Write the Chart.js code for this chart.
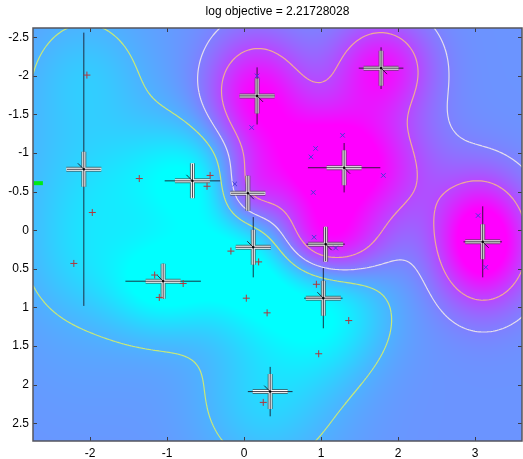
<!DOCTYPE html>
<html>
<head>
<meta charset="utf-8">
<script src="https://cdn.jsdelivr.net/npm/chart.js@4.4.1/dist/chart.umd.min.js"></script>
<style>
  html, body { margin: 0; padding: 0; background: #fff; }
  #wrap { width: 523px; height: 459px; }
</style>
</head>
<body>
<div id="wrap"><canvas id="plot" width="523" height="459"></canvas></div>
<script>
const titleText = 'log objective = 2.21728028';
const xTicks = [-2, -1, 0, 1, 2, 3];
const yTicks = [-2.5, -2, -1.5, -1, -0.5, 0, 0.5, 1, 1.5, 2, 2.5];

// class A points (red +)
const redX = [-2.04, -1.97, -1.36, -0.44, -0.48, -0.17, 0.19, -2.21, -1.16, -0.79, -1.10, 0.03, 0.94, 1.36, 0.30, 0.97, 0.25];
const redY = [-2.01, -0.23, -0.67, -0.71, -0.57, 0.27, 0.41, 0.43, 0.58, 0.69, 0.87, 0.88, 0.70, 1.17, 1.07, 1.60, 2.23];

// class B points (blue x)
const blueX = [-0.12, 0.10, 0.17, 1.28, 0.93, 0.87, 1.81, 0.90, 0.91, 1.19, 3.04, 3.14];
const blueY = [-0.60, -1.33, -2.00, -1.23, -1.06, -0.95, -0.71, -0.49, 0.09, 0.23, -0.19, 0.48];

const greenX = [-2.67];
const greenY = [-0.61];

// components: centre, length scales (black bars), class (+1 magenta, -1 cyan)
const centerX    = [-2.08, -0.67, 0.05, 0.17, 1.78, 1.30, 1.06, 0.12, -1.05, 1.03, 0.34, 3.10];
const centerY    = [-0.79, -0.64, -0.48, -1.74, -2.10, -0.81, 0.18, 0.22, 0.66, 0.88, 2.09, 0.15];
const centerLenX = [0.22, 0.36, 0.22, 0.23, 0.29, 0.47, 0.25, 0.23, 0.49, 0.25, 0.29, 0.25];
const centerLenY = [1.77, 0.22, 0.23, 0.37, 0.27, 0.32, 0.22, 0.39, 0.23, 0.39, 0.32, 0.46];
const centerClass = [-1, -1, 1, 1, 1, 1, 1, -1, -1, -1, -1, 1];
const centerWeight = [1, 1, 1, 0.8, 0.8, 1, 0.8, 1, 1, 0.8, 1, 0.8];

// estimated field: component bumps plus a small bump per data point
const centerAmp = [-0.20, -0.30, 0.35, 0.45, 0.50, 0.55, 0.45, -0.25, -0.23, -0.25, -0.18, 0.65];
const centerSX  = [0.75, 0.55, 0.30, 0.45, 0.45, 0.70, 0.50, 0.50, 0.60, 0.60, 0.75, 0.42];
const centerSY  = [1.55, 0.55, 0.35, 0.55, 0.45, 0.55, 0.35, 0.50, 0.45, 0.60, 0.90, 0.55];
const pointAmp = 0.07;
const pointSigma = 0.45;
const baseLevel = 0.42;
const contourLevels = [0.30, 0.5, 0.72];
const contourColors = ['rgb(200,232,120)', 'rgb(228,222,236)', 'rgb(240,170,150)'];

function bump(x, y, cx, cy, sx, sy) {
    const dx = (x - cx) / sx, dy = (y - cy) / sy;
    return Math.exp(-0.5 * (dx * dx + dy * dy));
}

function field(x, y) {
    let v = baseLevel;
    for (let i = 0; i < centerX.length; i++) {
        v += centerAmp[i] * bump(x, y, centerX[i], centerY[i], centerSX[i], centerSY[i]);
    }
    for (let i = 0; i < redX.length; i++) {
        v -= pointAmp * bump(x, y, redX[i], redY[i], pointSigma, pointSigma);
    }
    for (let i = 0; i < blueX.length; i++) {
        v += pointAmp * bump(x, y, blueX[i], blueY[i], pointSigma, pointSigma);
    }
    return v;
}

function pts(xs, ys) {
    return xs.map((x, i) => ({x: x, y: ys[i]}));
}

const backdrop = {
    id: 'backdrop',
    beforeDatasetsDraw(chart) {
        const ctx = chart.ctx;
        const a = chart.chartArea;
        const sx = chart.scales.x, sy = chart.scales.y;
        const w = Math.round(a.right - a.left), h = Math.round(a.bottom - a.top);

        // heat map
        const off = document.createElement('canvas');
        off.width = w; off.height = h;
        const octx = off.getContext('2d');
        const img = octx.createImageData(w, h);
        const xv = [], yv = [];
        for (let i = 0; i < w; i++) xv.push(sx.getValueForPixel(a.left + i + 0.5));
        for (let j = 0; j < h; j++) yv.push(sy.getValueForPixel(a.top + j + 0.5));
        for (let j = 0; j < h; j++) {
            for (let i = 0; i < w; i++) {
                let v = field(xv[i], yv[j]);
                v = Math.max(0, Math.min(1, v));
                const k = (j * w + i) * 4;
                img.data[k] = 255 * v;
                img.data[k + 1] = 255 * (1 - v);
                img.data[k + 2] = 255;
                img.data[k + 3] = 255;
            }
        }
        octx.putImageData(img, 0, 0);
        ctx.drawImage(off, a.left, a.top);

        // contours (marching squares)
        const step = 2;
        const nx = Math.ceil(w / step) + 1, ny = Math.ceil(h / step) + 1;
        const g = [];
        for (let j = 0; j < ny; j++) {
            const row = [];
            const yy = sy.getValueForPixel(a.top + j * step);
            for (let i = 0; i < nx; i++) {
                row.push(field(sx.getValueForPixel(a.left + i * step), yy));
            }
            g.push(row);
        }
        ctx.save();
        ctx.beginPath();
        ctx.rect(a.left, a.top, w, h);
        ctx.clip();
        ctx.lineWidth = 1.2;
        contourLevels.forEach((lev, li) => {
            ctx.strokeStyle = contourColors[li];
            ctx.beginPath();
            for (let j = 0; j < ny - 1; j++) {
                for (let i = 0; i < nx - 1; i++) {
                    const v0 = g[j][i], v1 = g[j][i + 1], v2 = g[j + 1][i + 1], v3 = g[j + 1][i];
                    const x0 = a.left + i * step, y0 = a.top + j * step;
                    const cr = [];
                    if ((v0 - lev) * (v1 - lev) < 0) cr.push([x0 + step * (lev - v0) / (v1 - v0), y0]);
                    if ((v1 - lev) * (v2 - lev) < 0) cr.push([x0 + step, y0 + step * (lev - v1) / (v2 - v1)]);
                    if ((v3 - lev) * (v2 - lev) < 0) cr.push([x0 + step * (lev - v3) / (v2 - v3), y0 + step]);
                    if ((v0 - lev) * (v3 - lev) < 0) cr.push([x0, y0 + step * (lev - v0) / (v3 - v0)]);
                    for (let c = 0; c + 1 < cr.length; c += 2) {
                        ctx.moveTo(cr[c][0], cr[c][1]);
                        ctx.lineTo(cr[c + 1][0], cr[c + 1][1]);
                    }
                }
            }
            ctx.stroke();
        });

        // components
        const arm = 17.5;
        centerX.forEach((cx, i) => {
            const px = sx.getPixelForValue(cx), py = sy.getPixelForValue(centerY[i]);
            ctx.lineCap = 'butt';
            ctx.strokeStyle = 'rgba(70,70,70,0.7)';
            ctx.lineWidth = 5;
            ctx.beginPath();
            ctx.moveTo(px - arm, py); ctx.lineTo(px + arm, py);
            ctx.moveTo(px, py - arm); ctx.lineTo(px, py + arm);
            ctx.stroke();
            const s = Math.round(155 + 100 * centerWeight[i]);
            ctx.strokeStyle = 'rgb(' + s + ',' + s + ',' + s + ')';
            ctx.lineWidth = 3;
            ctx.stroke();

            const lx = Math.abs(sx.getPixelForValue(cx + centerLenX[i]) - px);
            const ly = Math.abs(sy.getPixelForValue(centerY[i] + centerLenY[i]) - py);
            ctx.strokeStyle = 'rgba(25,20,35,0.85)';
            ctx.lineWidth = 1;
            ctx.beginPath();
            ctx.moveTo(px - lx, py); ctx.lineTo(px + lx, py);
            ctx.moveTo(px, py - ly); ctx.lineTo(px, py + ly);
            const d = 6 * centerClass[i];
            ctx.moveTo(px, py); ctx.lineTo(px + d, py + d);
            ctx.stroke();
            ctx.fillStyle = '#000';
            ctx.fillRect(px - 1, py - 1, 2, 2);
        });
        ctx.restore();
    },
    afterDraw(chart) {
        const ctx = chart.ctx;
        const a = chart.chartArea;
        const sx = chart.scales.x, sy = chart.scales.y;
        ctx.save();
        ctx.strokeStyle = '#3c3c46';
        ctx.lineWidth = 1;
        ctx.beginPath();
        xTicks.forEach(v => {
            const p = Math.round(sx.getPixelForValue(v)) + 0.5;
            ctx.moveTo(p, a.bottom); ctx.lineTo(p, a.bottom - 4);
            ctx.moveTo(p, a.top); ctx.lineTo(p, a.top + 4);
        });
        yTicks.forEach(v => {
            const p = Math.round(sy.getPixelForValue(v)) + 0.5;
            ctx.moveTo(a.left, p); ctx.lineTo(a.left + 4, p);
            ctx.moveTo(a.right, p); ctx.lineTo(a.right - 4, p);
        });
        ctx.stroke();
        ctx.lineWidth = 1.5;
        ctx.strokeStyle = '#55555e';
        ctx.strokeRect(a.left, a.top, a.right - a.left, a.bottom - a.top);
        ctx.fillStyle = '#000';
        ctx.font = '12px "Liberation Sans", Arial, sans-serif';
        ctx.textAlign = 'center';
        ctx.textBaseline = 'middle';
        ctx.fillText(titleText, (a.left + a.right) / 2, 12);
        ctx.restore();
    }
};

const ctx = document.getElementById('plot').getContext('2d');
const chart = new Chart(ctx, {
    type: 'scatter',
    data: {
        datasets: [
            {
                data: pts(redX, redY),
                pointStyle: 'cross',
                radius: 3.5,
                borderWidth: 1,
                borderColor: 'rgb(175,55,60)',
                backgroundColor: 'rgb(175,55,60)'
            },
            {
                data: pts(blueX, blueY),
                pointStyle: 'crossRot',
                radius: 3.2,
                borderWidth: 1,
                borderColor: 'rgb(70,60,215)',
                backgroundColor: 'rgb(70,60,215)'
            },
            {
                data: pts(greenX, greenY),
                pointStyle: 'line',
                radius: 4.5,
                borderWidth: 4,
                borderColor: 'rgb(0,235,20)',
                clip: false
            }
        ]
    },
    options: {
        responsive: false,
        animation: false,
        events: [],
        layout: { autoPadding: false, padding: { top: 28, right: 1, left: 0, bottom: 0 } },
        plugins: {
            legend: { display: false },
            tooltip: { enabled: false }
        },
        scales: {
            x: {
                type: 'linear',
                min: -2.74,
                max: 3.61,
                grid: { display: false, drawTicks: false },
                border: { display: false },
                afterFit: (scale) => { scale.height = 18; scale.paddingLeft = 0; scale.paddingRight = 0; },
                afterBuildTicks: (scale) => { scale.ticks = xTicks.map(v => ({value: v})); },
                ticks: {
                    padding: 5,
                    color: '#000',
                    font: { family: '"Liberation Sans", Arial, sans-serif', size: 12 },
                    callback: (v) => String(v)
                }
            },
            y: {
                type: 'linear',
                reverse: true,
                min: -2.62,
                max: 2.73,
                grid: { display: false, drawTicks: false },
                border: { display: false },
                afterFit: (scale) => { scale.width = 33; scale.paddingTop = 0; scale.paddingBottom = 0; },
                afterBuildTicks: (scale) => { scale.ticks = yTicks.map(v => ({value: v})); },
                ticks: {
                    padding: 4,
                    color: '#000',
                    font: { family: '"Liberation Sans", Arial, sans-serif', size: 12 },
                    callback: (v) => String(v)
                }
            }
        }
    },
    plugins: [backdrop]
});
</script>
</body>
</html>
